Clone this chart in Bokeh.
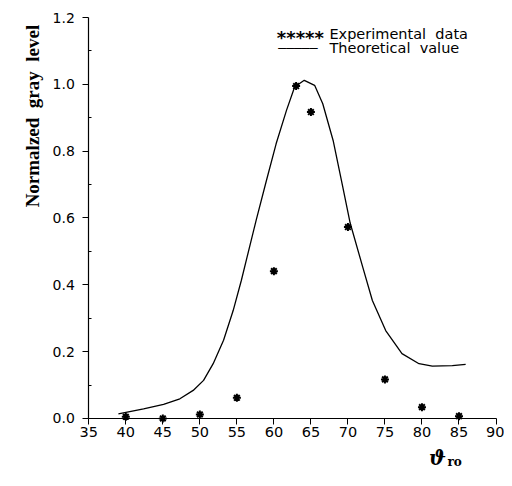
import math
from bokeh.plotting import figure
from bokeh.models import Label, Range1d, FixedTicker, LinearAxis, CustomJSTickFormatter
from bokeh.embed import file_html
from bokeh.resources import INLINE

# Experimental data
exp_x = [40, 45, 50, 55, 60, 63, 65, 70, 75, 80, 85]
exp_y = [0.005, 0.0, 0.012, 0.062, 0.441, 0.995, 0.917, 0.573, 0.117, 0.034, 0.007]

# Theoretical curve
theo_x = [39.0, 42.4, 45.1, 47.3, 49.1, 50.5, 51.8, 53.2, 54.5, 55.6, 56.4, 57.6, 59.0,
          60.3, 61.7, 62.8, 64.1, 65.5, 66.6, 68.0, 69.3, 70.3, 72.0, 73.3, 75.1,
          77.3, 79.6, 81.4, 84.1, 85.9]
theo_y = [0.014, 0.029, 0.042, 0.059, 0.084, 0.114, 0.164, 0.234, 0.323, 0.413, 0.485, 0.593, 0.713,
          0.822, 0.922, 0.992, 1.012, 0.997, 0.942, 0.832, 0.693, 0.585, 0.453, 0.353, 0.263,
          0.194, 0.164, 0.157, 0.158, 0.162]

x_ticks = [35, 40, 45, 50, 55, 60, 65, 70, 75, 80, 85, 90]
y_ticks = [0.0, 0.2, 0.4, 0.6, 0.8, 1.0, 1.2]
y_minor = [0.1, 0.3, 0.5, 0.7, 0.9, 1.1]

legend_exp = "Experimental\u00a0 data"
legend_theo = "Theoretical\u00a0 value"
y_title = "Normalzed\u00a0 gray\u00a0 level"

p = figure(width=504, height=478, output_backend="svg", toolbar_location=None,
           x_range=Range1d(23.074, 91.146), y_range=Range1d(-0.1796, 1.2509),
           x_axis_location=None, y_axis_location=None,
           min_border_left=0, min_border_right=0, min_border_top=0, min_border_bottom=0)
p.outline_line_color = None
p.grid.visible = False
p.background_fill_color = "white"

xax = LinearAxis(fixed_location=0, bounds=(35, 90), ticker=FixedTicker(ticks=x_ticks))
yax = LinearAxis(fixed_location=35, bounds=(0, 1.2),
                 ticker=FixedTicker(ticks=y_ticks, minor_ticks=y_minor),
                 formatter=CustomJSTickFormatter(code="return tick.toFixed(1);"))
for ax in (xax, yax):
    ax.axis_line_color = "black"
    ax.axis_line_width = 1.2
    ax.major_tick_line_color = "black"
    ax.major_tick_in = 0
    ax.major_tick_out = 6
    ax.major_label_text_color = "black"
    ax.major_label_text_font = "DejaVu Sans"
xax.minor_tick_line_color = None
yax.minor_tick_line_color = "black"
yax.minor_tick_in = 3
yax.minor_tick_out = 0
xax.major_label_text_font_size = "14.5px"
yax.major_label_text_font_size = "14px"
xax.major_label_standoff = 3
yax.major_label_standoff = 8
p.add_layout(xax, "below")
p.add_layout(yax, "left")

p.line(theo_x, theo_y, line_color="black", line_width=1.3)
p.scatter(exp_x, exp_y, marker="asterisk", size=8, line_color="black", line_width=2)

# y-axis title
p.add_layout(Label(x=27.4, y=0.905, text=y_title, angle=math.pi / 2,
                   text_align="center", text_baseline="middle",
                   text_font="Liberation Serif", text_font_style="bold",
                   text_font_size="19px", text_color="black"))
# x-axis title: theta subscript ro
p.add_layout(Label(x=82.1, y=-0.117, text="\u03d1", text_align="center", text_baseline="middle",
                   text_font="DejaVu Serif", text_font_style="bold italic",
                   text_font_size="20px", text_color="black"))
p.add_layout(Label(x=84.4, y=-0.129, text="ro", text_align="center", text_baseline="middle",
                   text_font="DejaVu Serif", text_font_style="bold",
                   text_font_size="12px", text_color="black"))

# legend
p.add_layout(Label(x=60.4, y=1.14, text="*****", text_align="left", text_baseline="middle",
                   text_font="DejaVu Sans", text_font_style="bold",
                   text_font_size="18px", text_color="black"))
p.add_layout(Label(x=67.5, y=1.15, text=legend_exp, text_align="left", text_baseline="middle",
                   text_font="DejaVu Sans", text_font_size="14.5px", text_color="black"))
p.add_layout(Label(x=60.6, y=1.108, text="\u2500\u2500\u2500\u2500\u2500", text_align="left",
                   text_baseline="middle",
                   text_font="DejaVu Sans", text_font_size="13px", text_color="black"))
p.add_layout(Label(x=67.5, y=1.108, text=legend_theo, text_align="left", text_baseline="middle",
                   text_font="DejaVu Sans", text_font_size="14.5px", text_color="black"))

open("out.html", "w").write(file_html(p, INLINE))
